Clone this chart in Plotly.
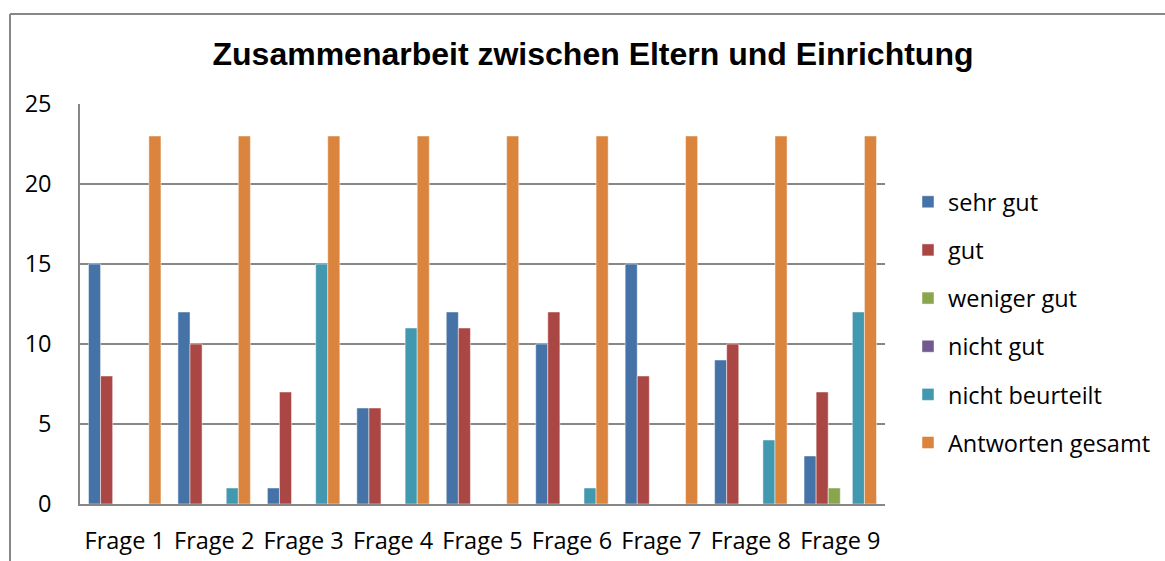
import plotly.graph_objects as go

categories = ["Frage 1", "Frage 2", "Frage 3", "Frage 4", "Frage 5", "Frage 6", "Frage 7", "Frage 8", "Frage 9"]
sehr_gut = [15, 12, 1, 6, 12, 10, 15, 9, 3]
gut = [8, 10, 7, 6, 11, 12, 8, 10, 7]
weniger_gut = [0, 0, 0, 0, 0, 0, 0, 0, 1]
nicht_gut = [0, 0, 0, 0, 0, 0, 0, 0, 0]
nicht_beurteilt = [0, 1, 15, 11, 0, 1, 0, 4, 12]
antworten_gesamt = [23, 23, 23, 23, 23, 23, 23, 23, 23]

series = [
    ("sehr gut", sehr_gut, "#4572A7"),
    ("gut", gut, "#AA4643"),
    ("weniger gut", weniger_gut, "#89A54E"),
    ("nicht gut", nicht_gut, "#71588F"),
    ("nicht beurteilt", nicht_beurteilt, "#4198AF"),
    ("Antworten gesamt", antworten_gesamt, "#DB843D"),
]

FONT = "Open Sans"
FS = 23.5

fig = go.Figure()
for i, (name, vals, col) in enumerate(series):
    fig.add_trace(go.Bar(
        x=categories, y=vals, name=name,
        marker=dict(color=col, line=dict(color="rgba(255,255,255,0.6)", width=0.8)),
        legendgroup=str(i),
    ))

L, R, T, B = 80, 885, 104, 504
W, H = 1165, 561
pw, ph = R - L, B - T

def px_x(x):
    return (x - L) / pw

def px_y(y):
    return (B - y) / ph

fig.update_layout(
    width=W, height=H,
    margin=dict(l=L, r=W - R, t=T, b=H - B, pad=0, autoexpand=False),
    paper_bgcolor="white", plot_bgcolor="white",
    barmode="group", bargap=0.19, bargroupgap=0,
    title=dict(text="<b>Zusammenarbeit zwischen Eltern und Einrichtung</b>",
               x=593 / W, xanchor="center",
               y=1 - 54 / H, yanchor="middle",
               font=dict(family="Liberation Sans", size=32, color="black")),
    font=dict(family=FONT, size=FS, color="black"),
    legend=dict(x=px_x(908), xanchor="left", y=px_y(180), yanchor="top",
                font=dict(family=FONT, size=FS, color="black"),
                tracegroupgap=14.6, itemwidth=30, bgcolor="rgba(0,0,0,0)"),
    xaxis=dict(showgrid=False, showline=True, linecolor="#878787", linewidth=1.5,
               ticks="", ticklabelstandoff=15, tickfont=dict(family=FONT, size=FS),
               fixedrange=True, automargin=False),
    yaxis=dict(range=[0, 25], dtick=5, showgrid=True, gridcolor="#878787", gridwidth=1.5,
               showline=True, linecolor="#878787", linewidth=1.5, zeroline=False,
               ticks="", ticklabelstandoff=22, tickfont=dict(family=FONT, size=FS),
               fixedrange=True, automargin=False),
    shapes=[
        dict(type="line", xref="paper", yref="paper",
             x0=px_x(10), x1=px_x(1166), y0=px_y(14), y1=px_y(14),
             line=dict(color="#878787", width=2)),
        dict(type="line", xref="paper", yref="paper",
             x0=px_x(10), x1=px_x(10), y0=px_y(14), y1=px_y(562),
             line=dict(color="#878787", width=2)),
    ],
)

fig.write_html("out.html", config={"displayModeBar": False},
               post_script="document.body.style.margin='0';document.body.style.overflow='hidden';")
